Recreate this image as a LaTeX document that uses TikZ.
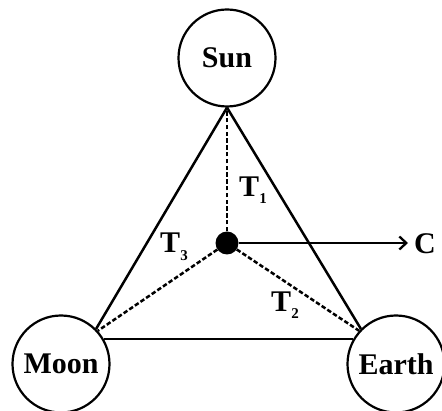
\documentclass[tikz,border=0pt]{standalone}
\usepackage{fontspec}
\setmainfont{Liberation Serif}
\usetikzlibrary{arrows.meta}
\newcommand{\lowsub}[1]{\raisebox{-0.25em}{\fontsize{15}{15}\selectfont #1}}
\begin{document}
\begin{tikzpicture}[x=1pt,y=-1pt,
  body/.style={circle,draw,line width=2.2pt,minimum size=97pt,inner sep=0pt,font=\fontsize{30}{32}\selectfont\bfseries},
  lbl/.style={inner sep=0pt,font=\fontsize{30}{32}\selectfont\bfseries},
  solidline/.style={line width=2.5pt},
  dashline/.style={line width=2.5pt,dash pattern=on 4.5pt off 2.3pt},
  ]
\useasboundingbox (0,0) rectangle (442,411);
\node[body] (sun) at (227,58) {Sun};
\node[body] (moon) at (61,364) {Moon};
\node[body] (earth) at (396,364) {Earth};
\node[circle,fill=black,minimum size=23pt,inner sep=0pt] (dot) at (227,243) {};
\coordinate (cend) at (408,243);
\node[lbl,anchor=west] (c) at (414,244) {C};
\draw[solidline] (sun.south) -- (moon.45);
\draw[solidline] (sun.south) -- (earth.135);
\draw[solidline] (moon.30) -- (earth.150);
\draw[dashline] (dot) -- (sun.south);
\draw[dashline] (dot) -- (moon.42);
\draw[dashline] (dot) -- (earth.138);
\draw[solidline,-{Straight Barb[length=7pt,width=13pt,line width=2.3pt]}] (dot) -- (cend);
\node[lbl] (t1) at (253,190) {T\lowsub{1}};
\node[lbl] (t3) at (174,247) {T\lowsub{3}};
\node[lbl] (t2) at (285,305) {T\lowsub{2}};
\end{tikzpicture}
\end{document}
